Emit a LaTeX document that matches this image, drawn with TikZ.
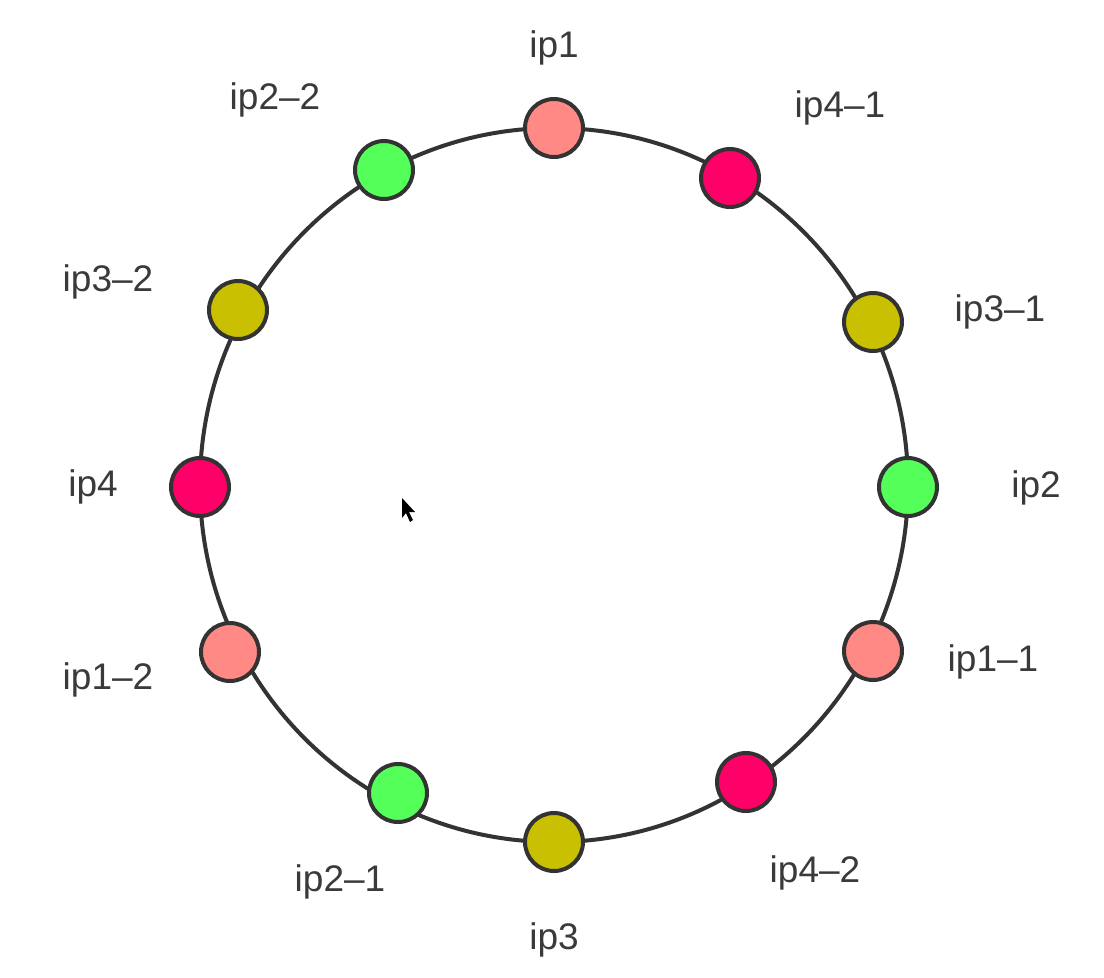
\documentclass[tikz,border=0pt]{standalone}
\usepackage{fontspec}
\setmainfont{Liberation Sans}
\definecolor{salmon}{HTML}{FF8A85}
\definecolor{hotpink}{HTML}{FF0068}
\definecolor{olive}{HTML}{C8C000}
\definecolor{lime}{HTML}{55FF5A}
\definecolor{ring}{HTML}{333333}
\definecolor{txt}{HTML}{3A3A3A}
\begin{document}
\begin{tikzpicture}[x=1pt,y=-1pt,
  ipnode/.style={circle,draw=ring,line width=4pt,minimum size=58pt,inner sep=0pt},
  lbl/.style={text=txt,font=\fontsize{37}{42}\selectfont,inner sep=0pt}]
\useasboundingbox (0,0) rectangle (1104,978);
\fill[white] (0,0) rectangle (1104,978);
\draw[ring,line width=4pt] (554,485) ellipse [x radius=354, y radius=357];
\node[ipnode,fill=salmon] (n1) at (554,128) {};
\node[ipnode,fill=hotpink] (n41) at (730,178) {};
\node[ipnode,fill=olive] (n31) at (873,322) {};
\node[ipnode,fill=lime] (n2) at (908,487) {};
\node[ipnode,fill=salmon] (n11) at (873,651) {};
\node[ipnode,fill=hotpink] (n42) at (746,782) {};
\node[ipnode,fill=olive] (n3) at (554,842) {};
\node[ipnode,fill=lime] (n21) at (398,793) {};
\node[ipnode,fill=salmon] (n12) at (230,652) {};
\node[ipnode,fill=hotpink] (n4) at (200,487) {};
\node[ipnode,fill=olive] (n32) at (238,310) {};
\node[ipnode,fill=lime] (n22) at (384,170) {};
\node[lbl] (l1) at (554,48) {ip1};
\node[lbl] (l22) at (275,100) {ip2--2};
\node[lbl] (l41) at (840,108) {ip4--1};
\node[lbl] (l32) at (108,282) {ip3--2};
\node[lbl] (l31) at (1000,312) {ip3--1};
\node[lbl] (l4) at (93,487) {ip4};
\node[lbl] (l2) at (1036,488) {ip2};
\node[lbl] (l12) at (108,680) {ip1--2};
\node[lbl] (l11) at (993,662) {ip1--1};
\node[lbl] (l21) at (340,882) {ip2--1};
\node[lbl] (l42) at (815,873) {ip4--2};
\node[lbl] (l3) at (554,940) {ip3};
\fill[black] (402,498) -- (402,518) -- (406,513) -- (410,522) -- (413,520) -- (409,512) -- (415,512) -- cycle;
\end{tikzpicture}
\end{document}
